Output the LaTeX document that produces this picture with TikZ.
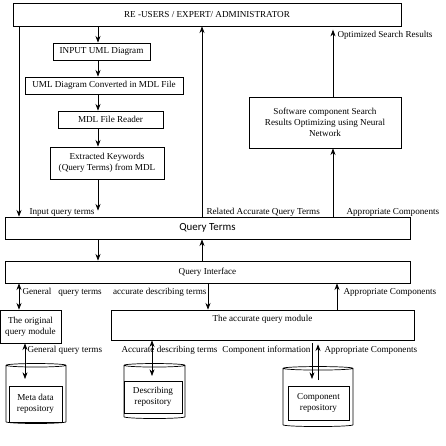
\documentclass[tikz,border=0pt]{standalone}
\usepackage{fontspec}
\setmainfont{Liberation Serif}
\newfontfamily\qtfont{Carlito}
\usetikzlibrary{arrows.meta, positioning, shapes.geometric}

\begin{document}
\begin{tikzpicture}[
    x=0.03cm, y=-0.03cm,
    font=\fontsize{7.8}{9.2}\selectfont,
    line width=0.6pt,
    box/.style={rectangle,draw,align=center,inner sep=1pt},
    repo/.style={cylinder,shape border rotate=90,aspect=0.45,draw},
    lbl/.style={inner sep=1pt}
    ]
    \useasboundingbox (0,0) rectangle (445,446);

    % Nodes
    \node[box, minimum width=11.64cm, minimum height=0.69cm] (users) at (207,14.5) {RE -USERS / EXPERT/ ADMINISTRATOR};
    \node[box, minimum width=2.91cm, minimum height=0.51cm] (input) at (101.5,51.5) {INPUT UML Diagram};
    \node[box, minimum width=4.74cm, minimum height=0.51cm] (convert) at (104,85.5) {UML Diagram Converted in MDL File};
    \node[box, minimum width=3.15cm, minimum height=0.51cm] (reader) at (110.5,119.5) {MDL File Reader};
    \node[box, minimum width=3.42cm, minimum height=0.96cm] (keywords) at (107,163) {Extracted Keywords\\(Query Terms) from MDL};
    \node[box, minimum width=4.56cm, minimum height=1.53cm] (neural) at (325,122.5) {Software component Search\\Results Optimizing using Neural\\Network};
    \node[box, minimum width=12.15cm, minimum height=0.66cm, font=\qtfont\fontsize{9.3}{11}\selectfont] (terms) at (207.5,228) {Query Terms};
    \node[box, minimum width=12.15cm, minimum height=0.66cm] (interface) at (207.5,272) {Query Interface};
    \node[box, minimum width=1.83cm, minimum height=0.99cm] (original) at (30.5,326.5) {The original\\query module};
    \node[box, minimum width=9.09cm, minimum height=0.9cm, text depth=0.42cm] (accurate) at (262.5,325) {The accurate query module};

    % Repositories
    \node[repo, minimum width=1.8cm, minimum height=1.8cm] (meta) at (36,395) {};
    \node[box, minimum width=1.59cm, minimum height=1.08cm] (metabox) at (35.5,404) {Meta data\\repository};
    \node[repo, minimum width=1.83cm, minimum height=1.65cm] (desc) at (154.5,392.5) {};
    \node[box, minimum width=1.74cm, minimum height=0.96cm] (descbox) at (153,397) {Describing\\repository};
    \node[repo, minimum width=2.1cm, minimum height=1.8cm] (comp) at (318,398) {};
    \node[box, minimum width=1.83cm, minimum height=1.02cm] (compbox) at (318.5,403) {Component\\repository};

    % Free ends inside the repositories
    \coordinate (metain) at (25,379);
    \coordinate (descin) at (152,376);
    \coordinate (compin) at (312,379);
    \coordinate (compout) at (318,380);

    % Left column, downwards
    \draw[-{Stealth[]}] (users.south -| 98,0) -- (input.north -| 98,0);
    \draw[-{Stealth[]}] (input.south -| 98,0) -- (convert.north -| 98,0);
    \draw[-{Stealth[]}] (convert.south -| 98,0) -- (reader.north -| 98,0);
    \draw[-{Stealth[]}] (reader.south -| 98,0) -- (keywords.north -| 98,0);
    \draw[-{Stealth[]}] (keywords.south -| 98,0) -- ([yshift=0.18cm]terms.north -| 98,0);
    \draw[-{Stealth[]}] (users.south -| 19,0) -- (terms.north -| 19,0);
    \draw[-{Stealth[]}] (terms.south -| 98,0) -- (interface.north -| 98,0);

    % Upwards to the users
    \draw[-{Stealth[]}] (terms.north -| 202,0) -- (users.south -| 202,0);
    \draw[-{Stealth[]}] (interface.north -| 202,0) -- (terms.south -| 202,0);
    \draw[-{Stealth[]}] (terms.north -| 333,0) -- (neural.south -| 333,0);
    \draw[-{Stealth[]}] (neural.north -| 333,0) -- ([yshift=-0.1cm]users.south -| 333,0);

    % Query modules
    \draw[{Stealth[]}-{Stealth[]}] (interface.south -| 19,0) -- (original.north -| 19,0);
    \draw[-{Stealth[]}] (interface.south -| 208,0) -- (accurate.north -| 208,0);
    \draw[-{Stealth[]}] (accurate.north -| 337,0) -- (interface.south -| 337,0);
    \draw[{Stealth[]}-{Stealth[]}] (original.south -| metain) -- (metain);
    \draw[{Stealth[]}-{Stealth[]}] (accurate.south -| descin) -- (descin);
    \draw[-{Stealth[]}] ([yshift=-0.09cm]accurate.south -| compin) -- (compin);
    \draw[-{Stealth[]}] (compout) -- ([yshift=-0.12cm]accurate.south -| compout);

    % Labels
    \node[lbl, anchor=west] (optlbl) at (336,35) {Optimized Search Results};
    \node[lbl, anchor=west] (inlbl) at (28,212) {Input query terms};
    \node[lbl, anchor=west] (rellbl) at (205,212) {Related Accurate Query Terms};
    \node[lbl, anchor=west] (applbl) at (345,212) {Appropriate Components};
    \node[lbl, anchor=west] (genlbl) at (21,292) {General~~~query terms};
    \node[lbl, anchor=east] (acclbl) at (208,292) {accurate describing terms};
    \node[lbl, anchor=west] (appmidlbl) at (342,292) {Appropriate Components};
    \node[lbl, anchor=west] (genlowlbl) at (26,350) {General query terms};
    \node[lbl, anchor=west] (desclbl) at (120,350) {Accurate describing terms};
    \node[lbl, anchor=east] (infolbl) at (312,350) {Component information};
    \node[lbl, anchor=west] (applowlbl) at (323,350) {Appropriate Components};
\end{tikzpicture}
\end{document}
